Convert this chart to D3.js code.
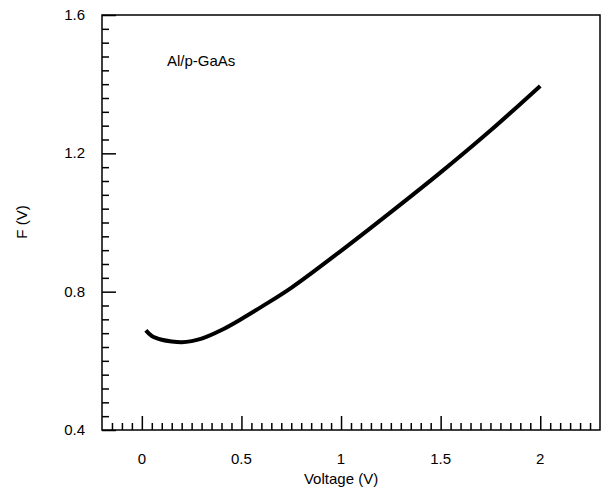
<!DOCTYPE html>
<html>
<head>
<meta charset="utf-8">
<script src="https://cdn.jsdelivr.net/npm/d3@7"></script>
<style>
  body { margin: 0; background: #fff; }
  text { font-family: "Liberation Sans", Arial, sans-serif; fill: #000; }
</style>
</head>
<body>
<div id="chart"></div>
<script>
// values
var voltage = [0.02, 0.05, 0.1, 0.15, 0.2, 0.25, 0.3, 0.4, 0.5, 0.6, 0.75, 1.0, 1.25, 1.5, 1.75, 2.0];
var barrier = [0.688, 0.672, 0.661, 0.656, 0.654, 0.657, 0.664, 0.689, 0.721, 0.756, 0.811, 0.918, 1.030, 1.145, 1.266, 1.395];
var xTicks = [0, 0.5, 1, 1.5, 2];
var yTicks = [0.4, 0.8, 1.2, 1.6];
var sampleLabel = "Al/p-GaAs";

var width = 603, height = 494;
var plotLeft = 102, plotRight = 600, plotTop = 15, plotBottom = 430;

var svg = d3.select("#chart").append("svg")
    .attr("width", width)
    .attr("height", height);

var x = d3.scaleLinear().domain([-0.2, 2.3]).range([plotLeft, plotRight]);
var y = d3.scaleLinear().domain([0.4, 1.6]).range([plotBottom, plotTop]);

//Minor ticks every 0.05 V and 0.04 V
var xMinor = d3.range(-0.15, 2.3, 0.05).filter(function (d) {
    return Math.abs(d * 2 - Math.round(d * 2)) > 1e-6;
});
var yMinor = d3.range(0.44, 1.6, 0.04).filter(function (d) {
    return Math.abs(d / 0.4 - Math.round(d / 0.4)) > 1e-6;
});

var xAxis = svg.append("g").attr("transform", "translate(0," + plotBottom + ")");
xAxis.append("g").call(d3.axisBottom(x).tickValues(xMinor).tickSize(-7).tickFormat(""));
xAxis.append("g").call(d3.axisBottom(x).tickValues(xTicks).tickSize(-14).tickFormat(""));
xAxis.selectAll(".domain").remove();

var yAxis = svg.append("g").attr("transform", "translate(" + plotLeft + ",0)");
yAxis.append("g").call(d3.axisLeft(y).tickValues(yMinor).tickSize(-7).tickFormat(""));
yAxis.append("g").call(d3.axisLeft(y).tickValues(yTicks).tickSize(-14).tickFormat(""));
yAxis.selectAll(".domain").remove();

svg.selectAll(".tick line").attr("stroke", "#000").attr("stroke-width", 1.5);

//Frame
svg.append("rect")
    .attr("x", plotLeft).attr("y", plotTop)
    .attr("width", plotRight - plotLeft).attr("height", plotBottom - plotTop)
    .attr("fill", "none").attr("stroke", "#000").attr("stroke-width", 1.5);

//Tick labels
svg.selectAll(".xlab").data(xTicks).enter().append("text")
    .attr("x", function (d) { return x(d); })
    .attr("y", 464)
    .attr("text-anchor", "middle")
    .style("font-size", "15px")
    .text(function (d) { return d; });

svg.selectAll(".ylab").data(yTicks).enter().append("text")
    .attr("x", 85)
    .attr("y", function (d) { return y(d) + 5; })
    .attr("text-anchor", "end")
    .style("font-size", "15px")
    .text(function (d) { return d.toFixed(1); });

svg.append("text")
    .attr("x", x(1)).attr("y", 484)
    .attr("text-anchor", "middle")
    .style("font-size", "15px")
    .text("Voltage (V)");

svg.append("text")
    .attr("transform", "translate(27,222) rotate(-90)")
    .attr("text-anchor", "middle")
    .style("font-size", "15px")
    .text("F (V)");

svg.append("text")
    .attr("x", 167).attr("y", 66)
    .style("font-size", "15px")
    .text(sampleLabel);

//Curve
var line = d3.line()
    .x(function (d, i) { return x(voltage[i]); })
    .y(function (d) { return y(d); })
    .curve(d3.curveCatmullRom);

svg.append("path")
    .datum(barrier)
    .attr("d", line)
    .attr("fill", "none")
    .attr("stroke", "#000")
    .attr("stroke-width", 4);
</script>
</body>
</html>
